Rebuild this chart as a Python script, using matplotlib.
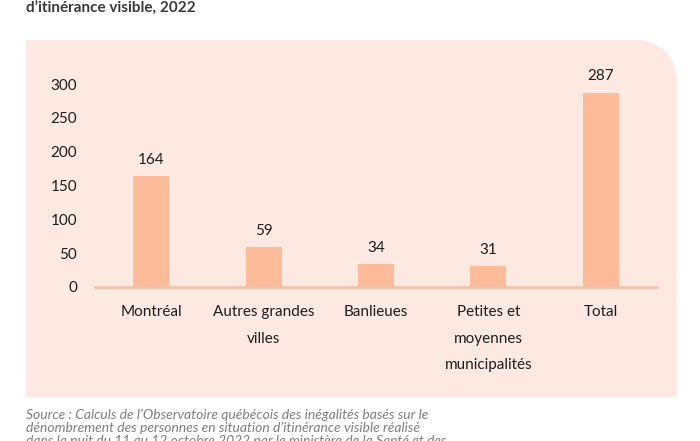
import numpy as np
import matplotlib.pyplot as plt
from matplotlib.path import Path
from matplotlib.patches import PathPatch
from matplotlib.transforms import IdentityTransform

# data
categories = ["Montréal", "Autres grandes\nvilles", "Banlieues",
              "Petites et\nmoyennes\nmunicipalités", "Total"]
values = [164, 59, 34, 31, 287]
yticks = [0, 50, 100, 150, 200, 250, 300]

title = "d\u2019itinérance visible, 2022"
source_lines = [
    "Source : Calculs de l\u2019Observatoire québécois des inégalités basés sur le",
    "dénombrement des personnes en situation d\u2019itinérance visible réalisé",
    "dans la nuit du 11 au 12 octobre 2022 par le ministère de la Santé et des",
]

plt.rcParams['font.family'] = ['Lato', 'DejaVu Sans']

W, H = 700, 441
fig = plt.figure(figsize=(W / 100, H / 100), dpi=100)

# --- pink panel with rounded top-right corner (pixel coords, origin bottom-left)
x0, x1 = 26, 677
y_top, y_bot = H - 40, H - 397
r = 40
theta = np.linspace(np.pi / 2, 0, 20)
arc = np.column_stack([x1 - r + r * np.cos(theta), y_top - r + r * np.sin(theta)])
verts = np.vstack([[x0, y_bot], [x0, y_top], arc, [x1, y_bot], [x0, y_bot]])
panel = PathPatch(Path(verts), facecolor="#fde9e1", edgecolor="none",
                  transform=IdentityTransform(), zorder=-5)
fig.patches.append(panel)

# --- axes
ax_left, ax_right = 95, 657
ax_bottom, ax_top = H - 287, H - 84
ax = fig.add_axes([ax_left / W, ax_bottom / H,
                   (ax_right - ax_left) / W, (ax_top - ax_bottom) / H])
ax.patch.set_alpha(0)
ax.set_zorder(1)

x = np.arange(len(categories))
bars = ax.bar(x, values, width=0.32, color="#fdbb9a", zorder=2)
for xi, v in zip(x, values):
    ax.text(xi, v + 14, str(v), ha="center", va="bottom",
            fontsize=11, color="#1e1e1e")

ax.set_xlim(-0.5, len(categories) - 0.5)
ax.set_ylim(0, 300)
ax.set_yticks(yticks)
ax.set_xticks(x)
ax.set_xticklabels(categories, linespacing=2.15, va="top")
ax.tick_params(axis="both", length=0, labelsize=11, colors="#1e1e1e")
ax.tick_params(axis="y", pad=13)
ax.tick_params(axis="x", pad=13)

for s in ["top", "right", "left"]:
    ax.spines[s].set_visible(False)
ax.spines["bottom"].set_color("#f2c2ad")
ax.spines["bottom"].set_linewidth(2)

# --- title and source
fig.text(26 / W, 1 - 9 / H, title, fontsize=11, fontweight="bold",
         color="#3a3a3a", ha="left", va="center")
for i, line in enumerate(source_lines):
    fig.text(26 / W, 1 - (415 + 13 * i) / H, line, fontsize=10, style="italic",
             color="#7f7f7f", ha="left", va="center")

fig.savefig("out.png", dpi=100)
